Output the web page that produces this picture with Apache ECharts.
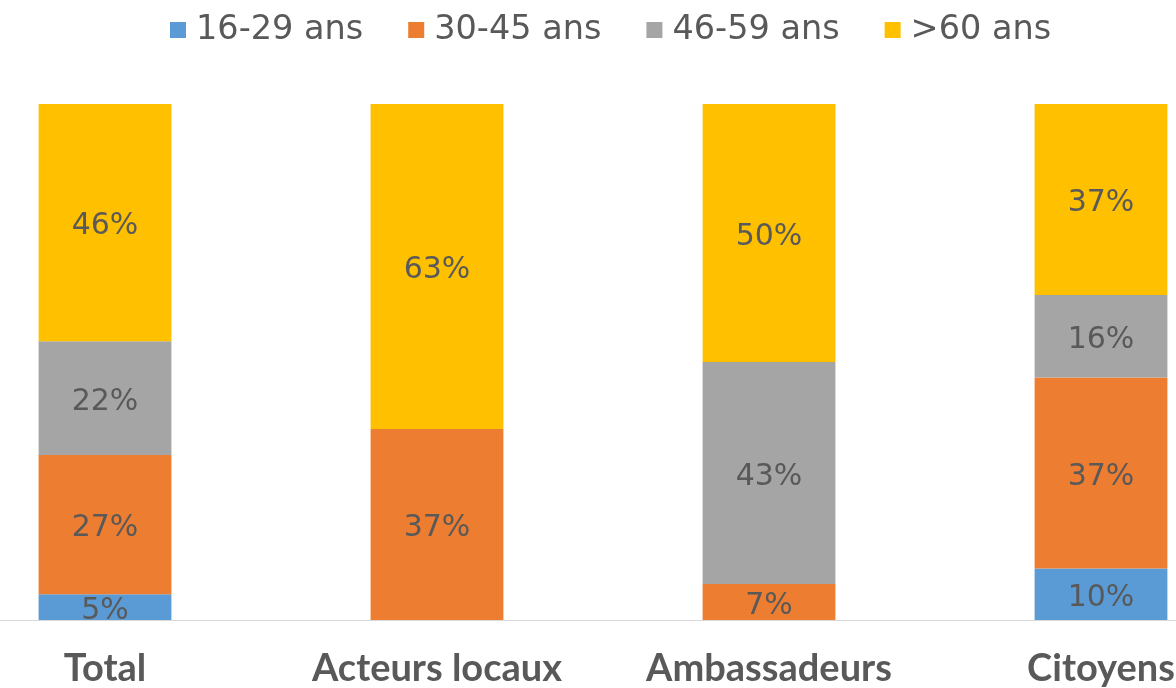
<!DOCTYPE html>
<html>
<head>
<meta charset="utf-8">
<script src="https://cdn.jsdelivr.net/npm/echarts@6/dist/echarts.min.js"></script>
<style>
  html, body { margin: 0; padding: 0; background: #fff; }
  #chart { width: 1176px; height: 688px; }
</style>
</head>
<body>
<div id="chart"></div>
<script>
var categories = ['Total', 'Acteurs locaux', 'Ambassadeurs', 'Citoyens'];
var seriesNames = ['16-29 ans', '30-45 ans', '46-59 ans', '>60 ans'];
var age16_29 = [5, 0, 0, 10];
var age30_45 = [27, 37, 7, 37];
var age46_59 = [22, 0, 43, 16];
var age60plus = [46, 63, 50, 37];
var colors = ['#5B9BD5', '#ED7D31', '#A5A5A5', '#FFC000'];

var chart = echarts.init(document.getElementById('chart'));

var makeSeries = function (name, values) {
    return {
        name: name,
        type: 'bar',
        stack: 'total',
        barWidth: '40%',
        data: values,
        label: {
            show: true,
            position: 'inside',
            offset: [0, 4],
            color: '#595959',
            fontFamily: 'DejaVu Sans',
            fontSize: 30,
            formatter: function (p) {
                return p.value ? p.value + '%' : '';
            }
        }
    };
};

var option = {
    animation: false,
    color: colors,
    legend: {
        data: seriesNames,
        left: 170,
        top: 13,
        padding: 0,
        itemWidth: 16,
        itemHeight: 16,
        itemGap: 45,
        icon: 'rect',
        textStyle: {
            color: '#595959',
            fontFamily: 'DejaVu Sans',
            fontSize: 33.5,
            padding: [0, 0, 0, 5]
        }
    },
    grid: {
        left: -61,
        width: 1328,
        top: 104,
        bottom: 68,
        containLabel: false,
        outerBoundsMode: 'none'
    },
    xAxis: {
        type: 'category',
        data: categories,
        axisLine: { lineStyle: { color: '#D9D9D9', width: 1 } },
        axisTick: { show: false },
        axisLabel: {
            interval: 0,
            margin: 30,
            color: '#595959',
            fontFamily: 'Lato',
            fontWeight: 'bold',
            fontSize: 38
        }
    },
    yAxis: {
        type: 'value',
        min: 0,
        max: 100,
        show: false
    },
    series: [
        makeSeries(seriesNames[0], age16_29),
        makeSeries(seriesNames[1], age30_45),
        makeSeries(seriesNames[2], age46_59),
        makeSeries(seriesNames[3], age60plus)
    ]
};

chart.setOption(option);
</script>
</body>
</html>
